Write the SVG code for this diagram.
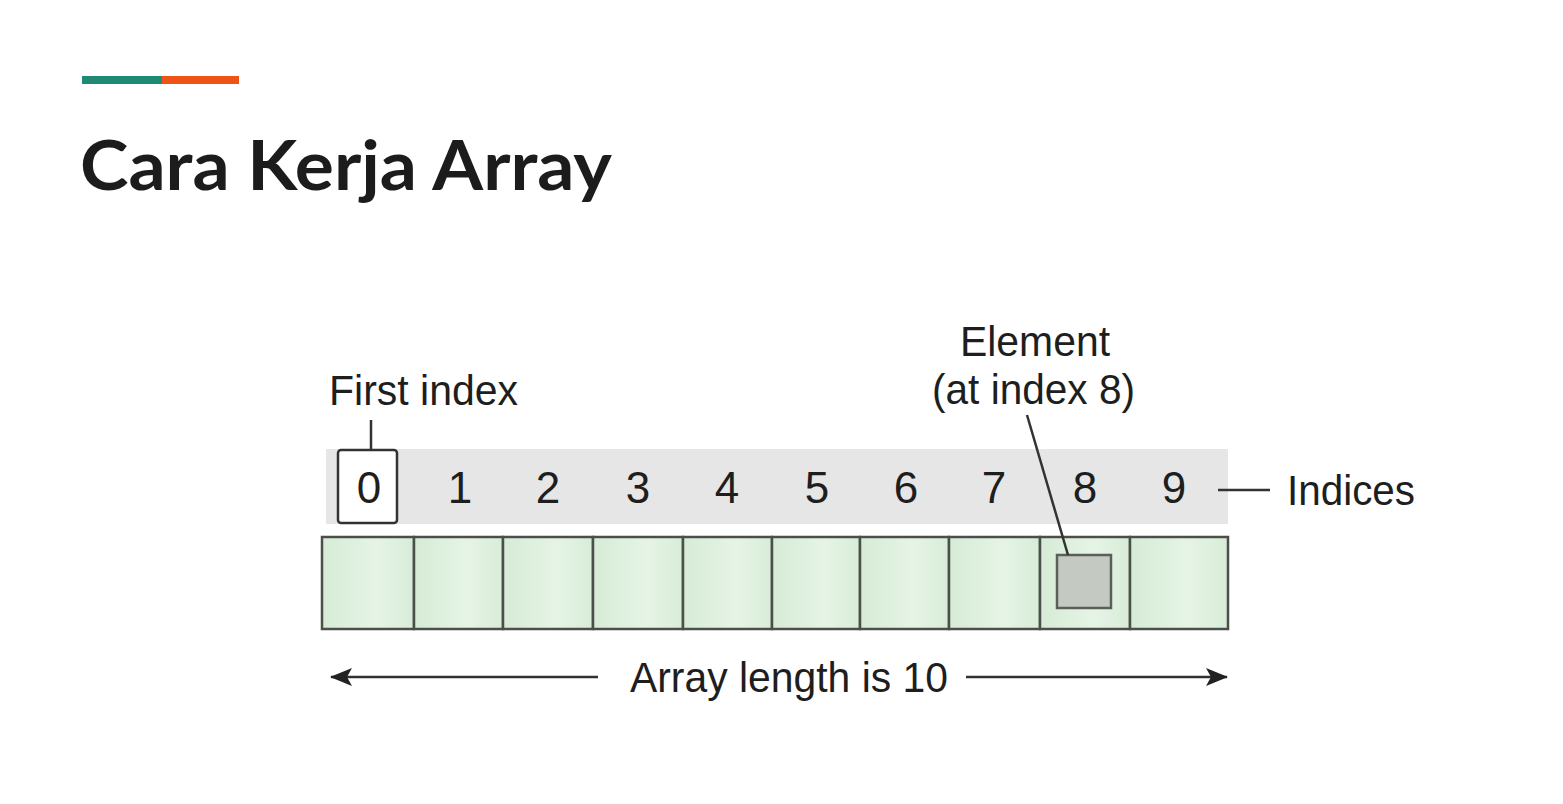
<svg xmlns="http://www.w3.org/2000/svg" width="1563" height="804" viewBox="0 0 1563 804">
<style>
.lbl{font-family:"Liberation Sans",Arial,sans-serif;font-size:43px;fill:#1e1e1e}
.dig{font-family:"Liberation Sans",Arial,sans-serif;font-size:44px;fill:#1e1e1e;text-anchor:middle}
.cell{fill:url(#cg);stroke:#4a4f4a;stroke-width:2.5}
.ln{stroke:#333;stroke-width:2.5;fill:none}
</style>
<defs>
<linearGradient id="cg" x1="0" y1="0" x2="1" y2="0">
<stop offset="0" stop-color="#d6ebd6"/>
<stop offset="0.6" stop-color="#e6f4e6"/>
<stop offset="1" stop-color="#d8ecd8"/>
</linearGradient>
<marker id="ah" viewBox="0 0 22 18" refX="21" refY="9" markerWidth="22" markerHeight="18" orient="auto-start-reverse" markerUnits="userSpaceOnUse">
<path d="M0,0 L22,9 L0,18 L5,9 Z" fill="#222"/>
</marker>
</defs>
<rect width="1563" height="804" fill="#ffffff"/>
<g id="header">
<rect x="82" y="76" width="80" height="8" fill="#1e8a73"/>
<rect x="162" y="76" width="77" height="8" fill="#ee5418"/>
<text x="80" y="190" font-family="Lato,'Open Sans',sans-serif" font-weight="bold" font-size="69" fill="#1c1c1c" textLength="532" lengthAdjust="spacingAndGlyphs">Cara Kerja Array</text>
</g>
<g id="indices">
<rect x="326" y="449" width="902" height="75" fill="#e6e6e6"/>
<rect x="338" y="450" width="59" height="73" rx="3" fill="#ffffff" stroke="#333" stroke-width="2.5"/>
<text class="dig" x="369" y="503">0</text>
<text class="dig" x="460" y="503">1</text>
<text class="dig" x="548" y="503">2</text>
<text class="dig" x="638" y="503">3</text>
<text class="dig" x="727" y="503">4</text>
<text class="dig" x="817" y="503">5</text>
<text class="dig" x="906" y="503">6</text>
<text class="dig" x="994" y="503">7</text>
<text class="dig" x="1085" y="503">8</text>
<text class="dig" x="1174" y="503">9</text>
</g>
<g id="cells">
<rect class="cell" x="322" y="537" width="92" height="92"/>
<rect class="cell" x="414" y="537" width="89" height="92"/>
<rect class="cell" x="503" y="537" width="90" height="92"/>
<rect class="cell" x="593" y="537" width="90" height="92"/>
<rect class="cell" x="683" y="537" width="89" height="92"/>
<rect class="cell" x="772" y="537" width="88" height="92"/>
<rect class="cell" x="860" y="537" width="89" height="92"/>
<rect class="cell" x="949" y="537" width="91" height="92"/>
<rect class="cell" x="1040" y="537" width="90" height="92"/>
<rect class="cell" x="1130" y="537" width="98" height="92"/>
</g>
<g id="element">
<rect x="1057" y="555" width="54" height="53" fill="#c4c9c2" stroke="#5a5f5a" stroke-width="2.5"/>
</g>
<g id="labels">
<text class="lbl" x="329" y="405" textLength="189" lengthAdjust="spacingAndGlyphs">First index</text>
<text class="lbl" x="960" y="356" textLength="150" lengthAdjust="spacingAndGlyphs">Element</text>
<text class="lbl" x="932" y="404" textLength="203" lengthAdjust="spacingAndGlyphs">(at index 8)</text>
<text class="lbl" x="1287" y="505" textLength="128" lengthAdjust="spacingAndGlyphs">Indices</text>
<text class="lbl" x="630" y="692" textLength="318" lengthAdjust="spacingAndGlyphs">Array length is 10</text>
</g>
<g id="connectors">
<line class="ln" x1="371" y1="420" x2="371" y2="450"/>
<line class="ln" x1="1027" y1="415" x2="1068" y2="555"/>
<line class="ln" x1="1218" y1="490" x2="1270" y2="490"/>
<line class="ln" x1="598" y1="677" x2="331" y2="677" marker-end="url(#ah)"/>
<line class="ln" x1="966" y1="677" x2="1227" y2="677" marker-end="url(#ah)"/>
</g>
</svg>
